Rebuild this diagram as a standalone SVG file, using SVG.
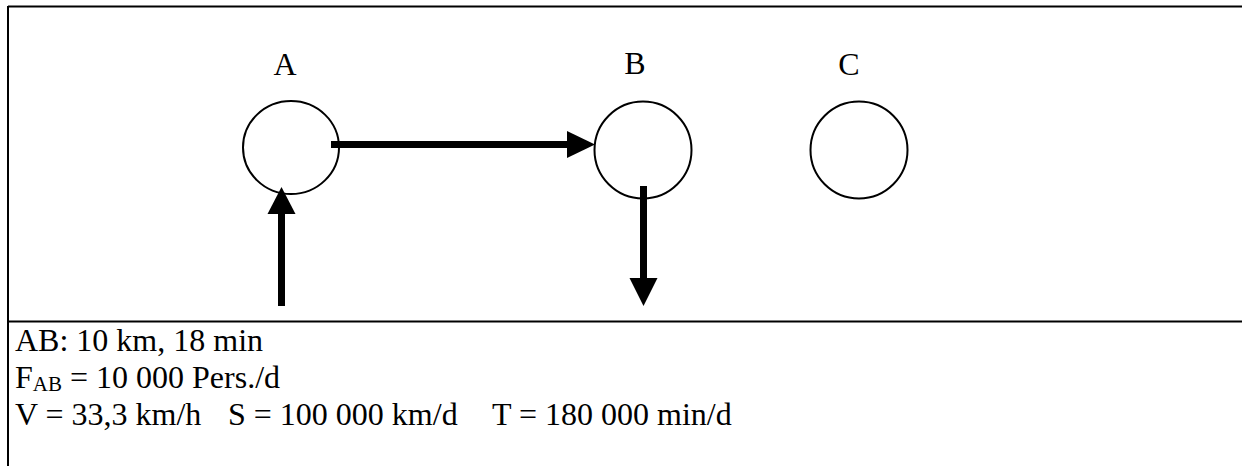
<svg xmlns="http://www.w3.org/2000/svg" width="1242" height="466" viewBox="0 0 1242 466">
  <style>
    .frame { stroke: #000; stroke-width: 2; fill: none; }
    .node { fill: #fff; stroke: #000; stroke-width: 2; }
    .label { font-family: "Liberation Serif", "Times New Roman", serif; font-size: 32px; fill: #000; }
    .flow { stroke: #000; stroke-width: 7; fill: none; }
    .head { fill: #000; stroke: none; }
  </style>

  <rect x="0" y="0" width="1242" height="466" fill="#fff"/>

  <!-- outer frame: top edge, left edge, separator above the legend -->
  <g id="frame">
    <line class="frame" x1="8" y1="6.5" x2="1242" y2="6.5"/>
    <line class="frame" x1="8" y1="6" x2="8" y2="466"/>
    <line class="frame" x1="8" y1="321.5" x2="1242" y2="321.5"/>
  </g>

  <!-- stops -->
  <g id="node-A">
    <ellipse class="node" cx="291" cy="147.5" rx="48" ry="46.5"/>
    <text class="label" x="285" y="75" text-anchor="middle">A</text>
  </g>
  <g id="node-B">
    <circle class="node" cx="643" cy="150" r="48.5"/>
    <text class="label" x="635" y="74" text-anchor="middle">B</text>
  </g>
  <g id="node-C">
    <circle class="node" cx="859" cy="150" r="48.5"/>
    <text class="label" x="849" y="75" text-anchor="middle">C</text>
  </g>

  <!-- flows -->
  <g id="connectors">
    <line class="flow" x1="331" y1="144.5" x2="568" y2="144.5"/>
    <polygon class="head" points="567,131 595,144.5 567,158"/>

    <line class="flow" x1="281.5" y1="306" x2="281.5" y2="212"/>
    <polygon class="head" points="267.5,214 281.5,187 295.5,214"/>

    <line class="flow" x1="643.5" y1="186" x2="643.5" y2="280"/>
    <polygon class="head" points="629.5,278 643.5,306 657.5,278"/>
  </g>

  <!-- legend -->
  <g id="legend" class="label">
    <text x="15" y="351">AB: 10 km, 18 min</text>
    <text x="15" y="388">F<tspan font-size="21" dy="3">AB</tspan><tspan dy="-3"> = 10 000 Pers./d</tspan></text>
    <text x="15" y="425">V = 33,3 km/h</text>
    <text x="228" y="425">S = 100 000 km/d</text>
    <text x="492" y="425">T = 180 000 min/d</text>
  </g>
</svg>
